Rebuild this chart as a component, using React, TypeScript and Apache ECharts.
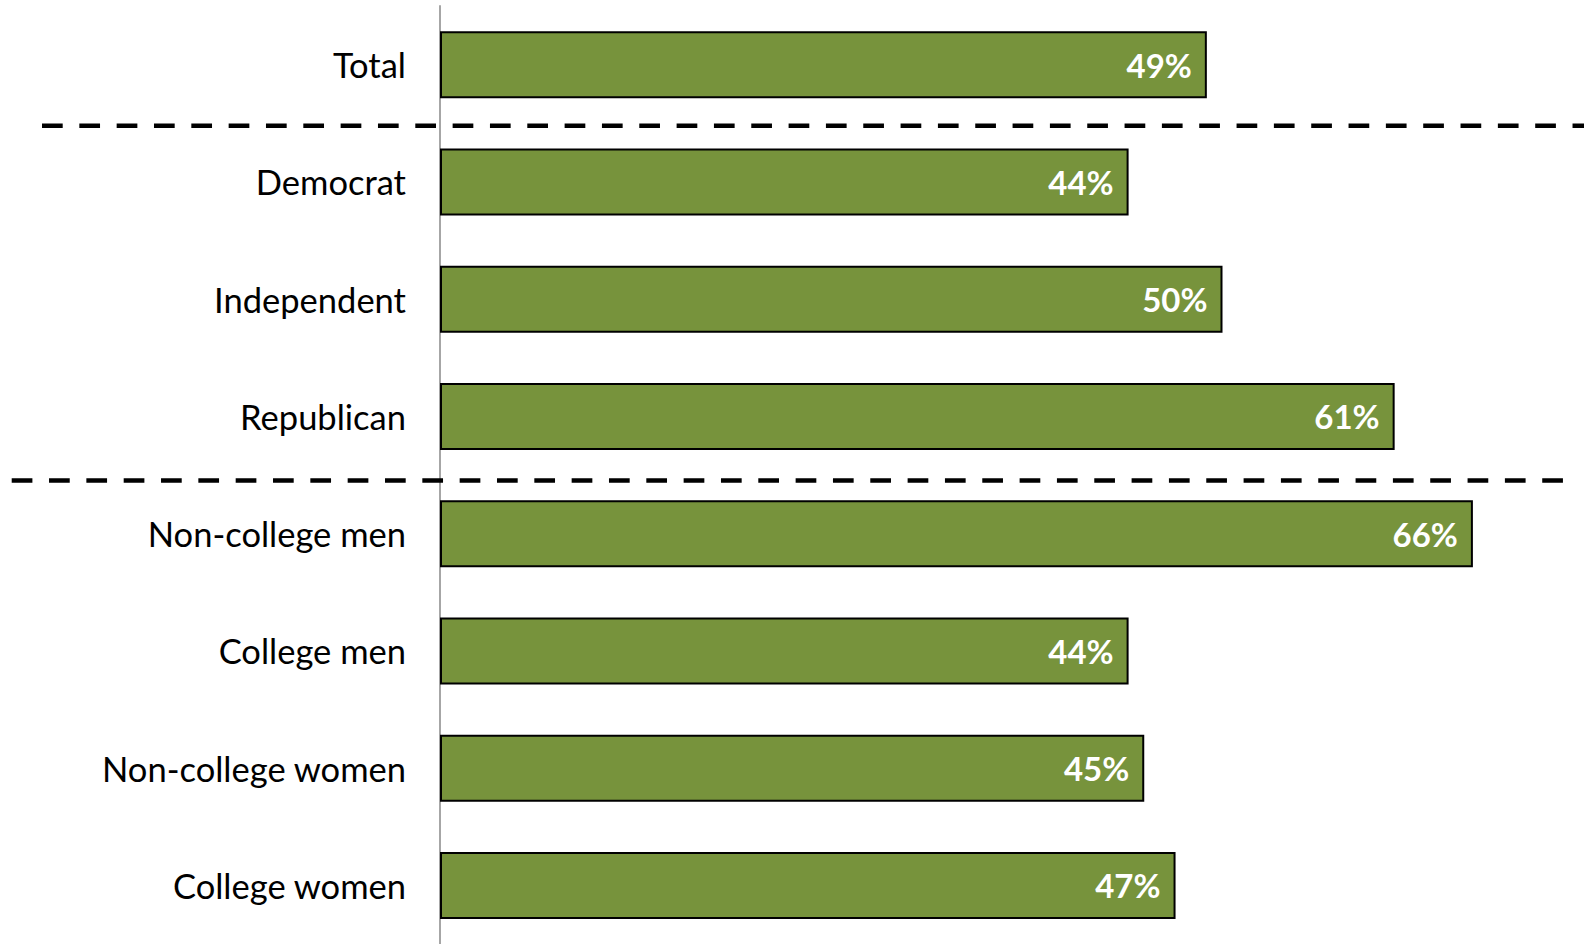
import React, { useEffect, useRef } from "react";
import * as echarts from "echarts";

const categories = [
  "Total",
  "Democrat",
  "Independent",
  "Republican",
  "Non-college men",
  "College men",
  "Non-college women",
  "College women",
];
const values = [49, 44, 50, 61, 66, 44, 45, 47];
const separatorsAfter = [0, 3];

const W = 1584;
const H = 944;
const GRID_LEFT = 440;
const GRID_TOP = 6;
const GRID_H = 941;
const X_MAX = 70;
const GRID_W = 1095.5;

export default function App() {
  const ref = useRef<HTMLDivElement>(null);
  useEffect(() => {
    if (!ref.current) return;
    const chart = echarts.init(ref.current, null, { renderer: "svg" });
    const band = GRID_H / categories.length;
    const seps = separatorsAfter.map((i, k) => ({
      type: "line",
      shape: {
        x1: k === 0 ? 42 : 11.7,
        y1: GRID_TOP + band * (i + 1) + (k === 0 ? 2 : 4),
        x2: k === 0 ? W : 1563,
        y2: GRID_TOP + band * (i + 1) + (k === 0 ? 2 : 4),
      },
      style: { stroke: "#000", lineWidth: 4.5, lineDash: [20.7, 16.63] },
      z: 1,
    }));
    chart.setOption({
      animation: false,
      backgroundColor: "#fff",
      grid: { left: GRID_LEFT, top: GRID_TOP, width: GRID_W, height: GRID_H, containLabel: false },
      xAxis: {
        type: "value",
        min: 0,
        max: X_MAX,
        show: false,
      },
      yAxis: {
        type: "category",
        data: categories,
        inverse: true,
        axisLine: { show: true, lineStyle: { color: "#A6A6A6", width: 2 } },
        axisTick: { show: false },
        axisLabel: {
          margin: 34,
          fontFamily: "Lato",
          fontSize: 34.5,
          color: "#000",
        },
      },
      series: [
        {
          type: "bar",
          data: values,
          barWidth: 67,
          itemStyle: { color: "#77933C", borderColor: "#000", borderWidth: 2 },
          label: {
            show: true,
            position: "insideRight",
            distance: 15,
            formatter: "{c}%",
            color: "#fff",
            fontFamily: "Lato",
            fontWeight: "bold",
            fontSize: 33,
          },
          z: 3,
        },
      ],
      graphic: seps,
    });
    return () => chart.dispose();
  }, []);
  return (
    <div
      ref={ref}
      style={{ position: "fixed", left: 0, top: 0, width: W, height: H }}
    />
  );
}
